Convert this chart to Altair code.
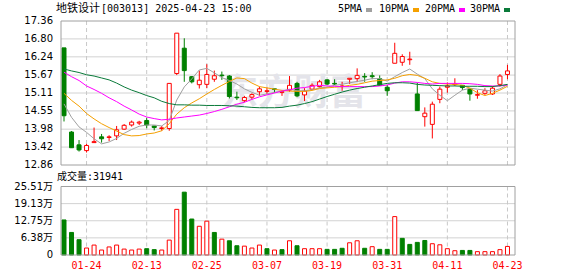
import altair as alt
import pandas as pd

# ---------------- data ----------------
dates = ["01-21", "01-22", "01-23", "01-24", "01-27", "02-05", "02-06", "02-07", "02-10", "02-11",
         "02-12", "02-13", "02-14", "02-17", "02-18", "02-19", "02-20", "02-21", "02-24", "02-25",
         "02-26", "02-27", "02-28", "03-03", "03-04", "03-05", "03-06", "03-07", "03-10", "03-11",
         "03-12", "03-13", "03-14", "03-17", "03-18", "03-19", "03-20", "03-21", "03-24", "03-25",
         "03-26", "03-27", "03-28", "03-31", "04-01", "04-02", "04-03", "04-07", "04-08", "04-09",
         "04-10", "04-11", "04-14", "04-15", "04-16", "04-17", "04-18", "04-21", "04-22", "04-23"]

open_ = [16.52, 13.89, 13.49, 13.31, 13.56, 13.74, 13.72, 13.77, 13.98, 14.11,
         14.17, 14.25, 14.08, 14.00, 14.00, 15.72, 16.51, 15.62, 15.37, 15.38,
         15.54, 15.67, 15.64, 14.98, 14.87, 14.98, 15.15, 15.16, 15.24, 15.13,
         15.20, 15.41, 15.05, 15.23, 15.31, 15.52, 15.41, 15.31, 15.54, 15.56,
         15.63, 15.65, 15.56, 15.29, 16.04, 16.07, 16.15, 15.08, 14.37, 14.13,
         14.91, 15.29, 15.37, 15.35, 15.23, 15.04, 15.10, 15.08, 15.38, 15.69]
high = [16.52, 13.92, 13.64, 13.52, 14.03, 13.83, 13.79, 14.08, 14.14, 14.25,
        14.24, 14.34, 14.08, 14.08, 15.41, 16.98, 16.82, 15.64, 15.81, 16.01,
        15.81, 15.78, 15.67, 15.15, 15.02, 15.10, 15.31, 15.28, 15.24, 15.18,
        15.64, 15.46, 15.26, 15.41, 15.52, 15.54, 15.54, 15.46, 15.57, 15.88,
        15.73, 15.76, 15.66, 15.36, 16.68, 16.32, 16.40, 15.43, 14.66, 14.84,
        15.31, 15.44, 15.57, 15.35, 15.26, 15.20, 15.26, 15.33, 15.70, 15.99]
low = [14.22, 13.40, 13.28, 13.25, 13.56, 13.56, 13.61, 13.64, 13.96, 14.06,
       14.11, 14.01, 13.94, 13.93, 13.93, 15.67, 15.46, 15.41, 15.25, 15.26,
       15.46, 15.52, 14.94, 14.89, 14.82, 14.91, 15.02, 15.08, 15.12, 15.02,
       15.15, 14.98, 14.86, 15.20, 15.28, 15.36, 15.36, 15.18, 15.39, 15.46,
       15.46, 15.54, 15.33, 15.02, 16.04, 15.96, 15.99, 14.56, 14.06, 13.69,
       14.79, 15.12, 15.33, 15.20, 14.87, 14.93, 15.05, 15.05, 15.31, 15.54]
close = [14.40, 13.40, 13.33, 13.47, 13.59, 13.68, 13.74, 13.96, 14.10, 14.20,
         14.20, 14.11, 14.03, 14.02, 15.41, 16.98, 15.81, 15.46, 15.51, 15.69,
         15.65, 15.65, 15.00, 14.96, 14.97, 15.06, 15.24, 15.18, 15.22, 15.15,
         15.35, 15.02, 15.17, 15.35, 15.46, 15.39, 15.39, 15.33, 15.57, 15.66,
         15.61, 15.62, 15.35, 15.18, 16.35, 16.25, 16.17, 14.56, 14.48, 14.76,
         15.23, 15.33, 15.39, 15.28, 15.08, 15.06, 15.18, 15.26, 15.64, 15.80]

volume_wan = [13.05, 8.4, 5.7, 2.6, 3.7, 1.85, 3.0, 3.7, 2.2, 1.85,
              2.2, 2.35, 2.0, 1.85, 5.55, 17.0, 23.4, 13.4, 10.7, 12.6,
              8.4, 5.9, 5.3, 3.45, 3.3, 2.6, 3.7, 2.35, 1.85, 2.0,
              5.3, 3.45, 2.35, 2.35, 2.35, 2.1, 2.1, 2.5, 4.55, 5.3,
              2.5, 3.1, 2.1, 2.1, 14.3, 6.2, 3.95, 4.7, 5.4, 4.2,
              3.8, 2.35, 1.6, 1.7, 1.7, 1.25, 1.25, 1.25, 2.0, 3.19]
volume_dir = ["down", "down", "down", "up", "up", "up", "up", "up", "up", "up",
              "up", "down", "down", "up", "up", "up", "down", "down", "up", "up",
              "down", "up", "down", "down", "up", "up", "up", "down", "up", "down",
              "up", "down", "up", "up", "up", "down", "down", "down", "up", "up",
              "down", "up", "down", "down", "up", "down", "down", "down", "down", "up",
              "up", "up", "up", "down", "down", "up", "up", "up", "up", "up"]

ma5 = [14.77, 14.35, 14.05, 13.88, 13.68, 13.52, 13.58, 13.69, 13.85, 13.97,
       14.07, 14.11, 14.11, 14.08, 14.25, 14.89, 15.30, 15.55, 15.83, 15.88,
       15.74, 15.59, 15.50, 15.39, 15.24, 15.13, 15.04, 15.08, 15.13, 15.17,
       15.23, 15.18, 15.18, 15.21, 15.27, 15.29, 15.35, 15.38, 15.43, 15.47,
       15.51, 15.56, 15.56, 15.48, 15.62, 15.75, 15.86, 15.70, 15.56, 15.24,
       15.04, 14.87, 15.04, 15.20, 15.26, 15.23, 15.20, 15.17, 15.24, 15.37]
ma10 = [15.10, 14.88, 14.70, 14.47, 14.30, 14.15, 14.03, 13.92, 13.81, 13.77,
        13.78, 13.83, 13.86, 13.93, 14.15, 14.45, 14.65, 14.80, 14.93, 15.08,
        15.22, 15.35, 15.47, 15.58, 15.56, 15.42, 15.31, 15.27, 15.23, 15.19,
        15.17, 15.16, 15.16, 15.19, 15.25, 15.27, 15.29, 15.31, 15.35, 15.38,
        15.43, 15.48, 15.50, 15.52, 15.57, 15.65, 15.69, 15.66, 15.57, 15.46,
        15.41, 15.39, 15.38, 15.35, 15.26, 15.12, 15.03, 15.10, 15.20, 15.32]
ma20 = [15.76, 15.62, 15.50, 15.33, 15.22, 15.10, 14.96, 14.84, 14.70, 14.58,
        14.45, 14.36, 14.31, 14.27, 14.29, 14.33, 14.36, 14.39, 14.42, 14.47,
        14.53, 14.60, 14.68, 14.76, 14.82, 14.91, 14.99, 15.05, 15.11, 15.17,
        15.21, 15.26, 15.28, 15.32, 15.35, 15.33, 15.32, 15.31, 15.31, 15.31,
        15.31, 15.31, 15.33, 15.36, 15.42, 15.46, 15.46, 15.44, 15.41, 15.39,
        15.41, 15.41, 15.41, 15.41, 15.40, 15.38, 15.34, 15.33, 15.33, 15.36]
ma30 = [15.86, 15.80, 15.75, 15.68, 15.64, 15.58, 15.52, 15.42, 15.30, 15.20,
        15.12, 15.03, 14.96, 14.85, 14.78, 14.74, 14.74, 14.73, 14.73, 14.72,
        14.72, 14.72, 14.71, 14.70, 14.68, 14.66, 14.65, 14.65, 14.65, 14.66,
        14.70, 14.73, 14.78, 14.84, 14.92, 15.00, 15.07, 15.14, 15.20, 15.25,
        15.29, 15.33, 15.37, 15.41, 15.43, 15.43, 15.42, 15.38, 15.36, 15.35,
        15.34, 15.33, 15.33, 15.32, 15.32, 15.32, 15.31, 15.31, 15.34, 15.38]

price_ticks = [17.36, 16.80, 16.24, 15.67, 15.11, 14.55, 13.98, 13.42, 12.86]
vol_ticks = [25.51, 19.13, 12.75, 6.38, 0.0]
vol_tick_labels = ["25.51万", "19.13万", "12.75万", "6.38万", "0"]
date_tick_index = [3, 11, 19, 27, 35, 43, 51, 59]

title_name = "地铁设计"
title_rest = "[003013] 2025-04-23 15:00"
vol_caption = "成交量:31941"
ma_names = ["5PMA", "10PMA", "20PMA", "30PMA"]
watermark = "东方财富"

# ---------------- styling ----------------
RED = "#ff0000"
GREEN = "#008000"
MA_COLORS = ["#a0a0a0", "#f5a000", "#ff00ff", "#0a7a3a"]
FRAME = "#a0a0a0"
GRID = "#d2d2d2"
W, H = 464, 235

n = len(dates)
df = pd.DataFrame({
    "i": list(range(n)), "date": dates, "open": open_, "high": high, "low": low, "close": close,
    "vol": volume_wan, "vdir": volume_dir,
    "ma5": ma5, "ma10": ma10, "ma20": ma20, "ma30": ma30,
})
df["dir"] = ["up" if c >= o else "down" for o, c in zip(open_, close)]

xs = alt.Scale(domain=[-0.4, 60.0], nice=False, zero=False)
ps = alt.Scale(domain=[12.86, 17.36], range=[144, 0], nice=False, zero=False)
vs = alt.Scale(domain=[0, 25.51], range=[234, 165.5], nice=False, zero=False)


def X(field="i"):
    return alt.X(f"{field}:Q", scale=xs, axis=None)


def YP(field):
    return alt.Y(f"{field}:Q", scale=ps, axis=None)


def YV(field):
    return alt.Y(f"{field}:Q", scale=vs, axis=None)


# frames & grids
pframe = pd.DataFrame({"x1": [-0.4], "x2": [60.0], "y1": [12.86], "y2": [17.36]})
vframe = pd.DataFrame({"x1": [-0.4], "x2": [60.0], "y1": [0.0], "y2": [25.51]})
pgrid = pd.DataFrame({"v": price_ticks[1:-1], "x1": -0.4, "x2": 60.0})
vgrid = pd.DataFrame({"v": vol_ticks[1:-1], "x1": -0.4, "x2": 60.0})
vlines = pd.DataFrame({"i": date_tick_index, "pt": 17.36, "pb": 12.86, "vt": 25.51, "vb": 0.0,
                       "label": [dates[k] for k in date_tick_index]})
plabels = pd.DataFrame({"v": price_ticks, "t": [f"{v:.2f}" for v in price_ticks]})
vlabels = pd.DataFrame({"v": vol_ticks, "t": vol_tick_labels})

layers = []

layers.append(alt.Chart(pgrid).mark_rule(color=GRID, strokeWidth=1).encode(
    x=X("x1"), x2="x2:Q", y=YP("v")))
layers.append(alt.Chart(vgrid).mark_rule(color=GRID, strokeWidth=1).encode(
    x=X("x1"), x2="x2:Q", y=YV("v")))
layers.append(alt.Chart(vlines).mark_rule(color="#c8c8c8", strokeWidth=1, strokeDash=[4, 3]).encode(
    x=X(), y=YP("pt"), y2="pb:Q"))
layers.append(alt.Chart(vlines).mark_rule(color="#c8c8c8", strokeWidth=1, strokeDash=[4, 3]).encode(
    x=X(), y=YV("vt"), y2="vb:Q"))

# watermark
layers.append(alt.Chart(pd.DataFrame({"t": [watermark]})).mark_text(
    font="Noto Sans CJK SC", fontSize=36, fontWeight="bold", color="#e4e4ea",
    align="center", baseline="middle").encode(
    x=alt.value(238), y=alt.value(73), text="t:N"))

# candles
layers.append(alt.Chart(df).mark_rule(strokeWidth=1).encode(
    x=X(), y=YP("low"), y2="high:Q",
    color=alt.Color("dir:N", scale=alt.Scale(domain=["up", "down"], range=[RED, GREEN]), legend=None)))
layers.append(alt.Chart(df).transform_filter("datum.dir == 'up'").mark_bar(
    size=4, orient="vertical", fill="white", stroke=RED, strokeWidth=1).encode(
    x=X(), y=YP("open"), y2="close:Q"))
layers.append(alt.Chart(df).transform_filter("datum.dir == 'down'").mark_bar(
    size=4, orient="vertical", fill=GREEN, stroke=GREEN, strokeWidth=1).encode(
    x=X(), y=YP("open"), y2="close:Q"))

# moving averages
for name, col in zip(["ma5", "ma10", "ma20", "ma30"], MA_COLORS):
    layers.append(alt.Chart(df).mark_line(strokeWidth=1, color=col).encode(
        x=X(), y=YP(name)))

# volume
layers.append(alt.Chart(df).transform_filter("datum.vdir == 'up'").mark_bar(
    size=4, orient="vertical", fill="white", stroke=RED, strokeWidth=1).encode(
    x=X(), y=YV("vol")))
layers.append(alt.Chart(df).transform_filter("datum.vdir == 'down'").mark_bar(
    size=4, orient="vertical", fill=GREEN, stroke=GREEN, strokeWidth=1).encode(
    x=X(), y=YV("vol")))

# frames
layers.append(alt.Chart(pframe).mark_rect(fillOpacity=0, stroke=FRAME, strokeWidth=1).encode(
    x=X("x1"), x2="x2:Q", y=YP("y1"), y2="y2:Q"))
layers.append(alt.Chart(vframe).mark_rect(fillOpacity=0, stroke=FRAME, strokeWidth=1).encode(
    x=X("x1"), x2="x2:Q", y=YV("y1"), y2="y2:Q"))

# axis labels
layers.append(alt.Chart(plabels).mark_text(
    align="right", baseline="middle", dx=-3, font="DejaVu Sans", fontSize=10, color="#000").encode(
    x=alt.value(0), y=YP("v"), text="t:N"))
layers.append(alt.Chart(vlabels).mark_text(
    align="right", baseline="middle", dx=-3, font="DejaVu Sans, Noto Sans CJK SC", fontSize=10,
    color="#000").encode(x=alt.value(0), y=YV("v"), text="t:N"))
layers.append(alt.Chart(vlines).mark_text(
    align="center", baseline="middle", dy=11, font="DejaVu Sans Mono", fontSize=10, color=RED).encode(
    x=X(), y=YV("vb"), text="label:N"))

# header and captions
layers.append(alt.Chart(pd.DataFrame({"t": [title_name]})).mark_text(
    align="left", baseline="middle", font="Noto Sans CJK SC", fontSize=11, color="#000").encode(
    x=alt.value(0), y=alt.value(-12), text="t:N"))
layers.append(alt.Chart(pd.DataFrame({"t": [title_rest]})).mark_text(
    align="left", baseline="middle", font="DejaVu Sans Mono", fontSize=10, color="#000").encode(
    x=alt.value(45), y=alt.value(-12), text="t:N"))
layers.append(alt.Chart(pd.DataFrame({"t": [vol_caption]})).mark_text(
    align="left", baseline="middle", font="DejaVu Sans Mono, Noto Sans CJK SC", fontSize=10,
    color="#000").encode(x=alt.value(1), y=alt.value(156), text="t:N"))

legend_x = [282, 323, 369, 414]
for k, (nm, col) in enumerate(zip(ma_names, MA_COLORS)):
    tx = legend_x[k]
    sq = tx + len(nm) * 6 + 4
    layers.append(alt.Chart(pd.DataFrame({"t": [nm]})).mark_text(
        align="left", baseline="middle", font="DejaVu Sans Mono", fontSize=10, color="#000").encode(
        x=alt.value(tx), y=alt.value(-12), text="t:N"))
    layers.append(alt.Chart(pd.DataFrame({"t": [nm]})).mark_rect(color=col).encode(
        x=alt.value(sq), x2=alt.value(sq + 6), y=alt.value(-13), y2=alt.value(-9)))

chart = alt.layer(*layers).resolve_scale(y="independent").properties(
    width=W, height=H,
    autosize=alt.AutoSizeParams(type="none"),
    padding={"left": 56, "top": 21, "right": 58, "bottom": 20},
).configure_view(stroke=None)

chart.save("out.html", embed_options={"renderer": "svg", "actions": False})
